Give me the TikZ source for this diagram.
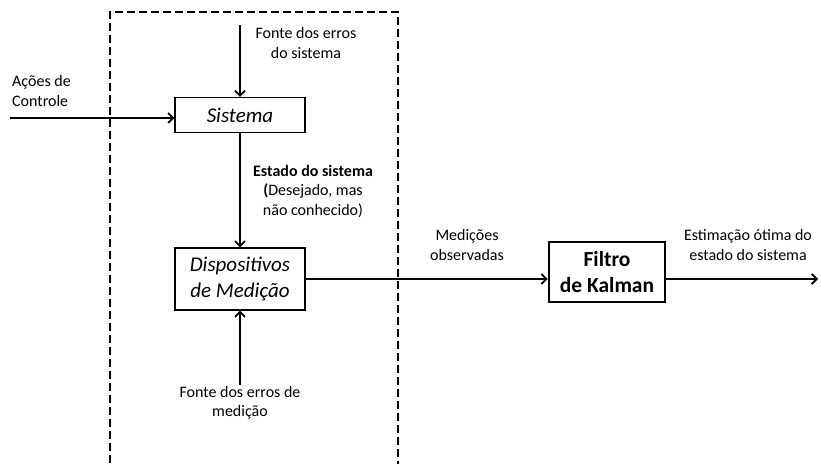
\documentclass[tikz,border=0pt]{standalone}
\usepackage{fontspec}
\setmainfont{Carlito}
\usetikzlibrary{arrows.meta}
\usetikzlibrary{positioning}
\tikzset{
    bloco/.style={draw,line width=1.3pt,minimum width=130pt,inner sep=2pt,align=center,font=\fontsize{21}{26}\selectfont\itshape},
    filtro/.style={draw,line width=2.8pt,minimum width=116pt,minimum height=60pt,align=center,font=\fontsize{21.5}{26}\selectfont\bfseries},
    rotulo/.style={align=center,inner sep=0pt,font=\fontsize{16}{19.5}\selectfont},
    seta/.style={line width=2pt,-{Straight Barb[length=5pt,width=10pt,line width=1.8pt]}},
}
\begin{document}
\begin{tikzpicture}[x=1pt,y=-1pt]
    \useasboundingbox (0,0) rectangle (821,463);

    % limite do sistema
    \draw[line width=1.6pt,dash pattern=on 8pt off 4pt] (110,475) -- (110,12) -- (398,12) -- (398,475);

    \node[bloco,minimum height=35pt] (sist) at (240,115) {Sistema};
    \node[bloco,minimum height=62pt] (disp) at (240,279) {Dispositivos\\de Medição};
    \node[filtro] (kalman) at (607,272) {Filtro\\de Kalman};

    \coordinate (errsist) at (240,25);
    \coordinate (controle) at (10,118);
    \coordinate (errmed) at (240,385);
    \coordinate (saida) at (818,279);

    \draw[seta] (errsist) -- (sist);
    \draw[seta] (controle) -- (controle -| sist.west);
    \draw[seta] (sist) -- (disp);
    \draw[seta] (errmed) -- (disp);
    \draw[seta] (disp.east |- saida) -- (kalman.west |- saida);
    \draw[seta] (kalman.east |- saida) -- (saida);

    \node[rotulo,align=left,anchor=west] (acoes) at (12,91) {Ações de\\Controle};
    \node[rotulo] (fsist) at (306,43) {Fonte dos erros\\do sistema};
    \node[rotulo] (estado) at (313,191) {\textbf{Estado do sistema}\\\textbf{(}Desejado, mas\\não conhecido)};
    \node[rotulo] (fmed) at (240,403) {Fonte dos erros de\\medição};
    \node[rotulo] (medidas) at (467,245) {Medições\\observadas};
    \node[rotulo] (estim) at (748,245) {Estimação ótima do\\estado do sistema};

\end{tikzpicture}
\end{document}
